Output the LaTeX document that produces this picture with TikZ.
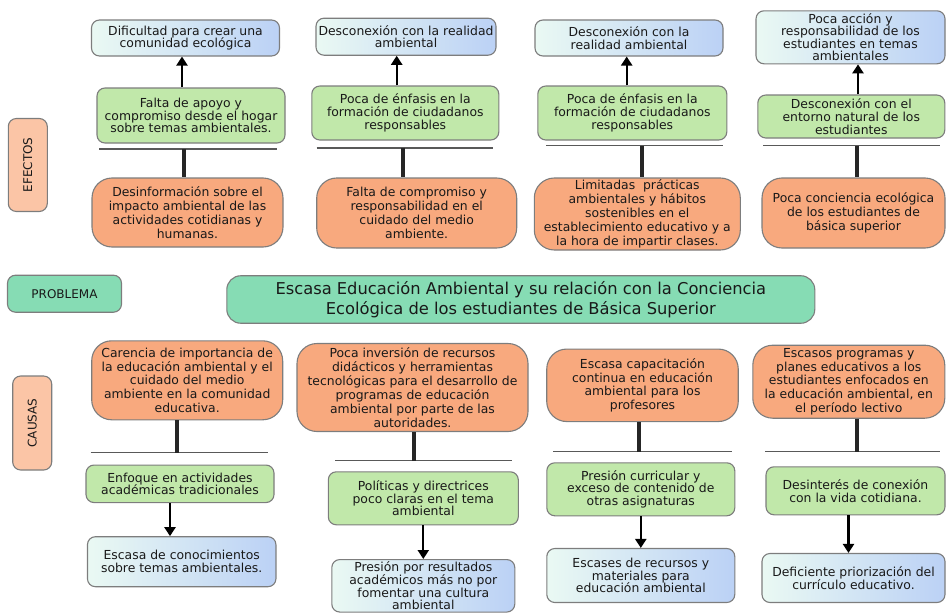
\documentclass[tikz,border=0pt]{standalone}
\usepackage{fontspec}
\setmainfont{DejaVu Sans}
\usetikzlibrary{arrows.meta,positioning}
\definecolor{naranja}{RGB}{248,169,126}
\definecolor{naranjaclaro}{RGB}{251,197,166}
\definecolor{verde}{RGB}{193,232,170}
\definecolor{menta}{RGB}{134,220,180}
\definecolor{celeste}{RGB}{234,249,243}
\definecolor{azul}{RGB}{187,209,245}
\definecolor{borde}{RGB}{125,125,125}
\tikzset{
    basic/.style    = {draw=borde, line width=1.1pt, align=center, inner sep=0pt, text=black!90},
    efecto/.style   = {basic, rounded corners=8pt, left color=celeste, right color=azul, font=\fontsize{12.4}{12.8}\selectfont},
    medio/.style    = {basic, rounded corners=8pt, fill=verde, font=\fontsize{12.4}{12.8}\selectfont},
    raiz/.style     = {basic, rounded corners=20pt, fill=naranja, font=\fontsize{12.4}{13.9}\selectfont},
    etiqueta/.style = {basic, rounded corners=8pt, font=\fontsize{12}{13}\selectfont},
    tema/.style     = {basic, rounded corners=14pt, fill=menta, font=\fontsize{16.3}{20}\selectfont},
    linea/.style    = {draw=black!65, line width=1.3pt},
    tronco/.style   = {draw=black!85, line width=4pt},
    flecha/.style   = {->, draw=black, line width=2.2pt}
}
\begin{document}
\begin{tikzpicture}[x=1pt, y=-1pt, >={Triangle[length=9pt,width=11pt]}]
	\useasboundingbox (0,0) rectangle (946,613);
	
	\node[etiqueta, fill=naranjaclaro, rotate=90, minimum width=93, minimum height=39] (nodeEfectos) at (27.8,165) {EFECTOS};
	\node[etiqueta, fill=menta, minimum width=114, minimum height=37] (nodeProblemaLbl) at (64.5,293.7) {PROBLEMA};
	\node[etiqueta, fill=naranjaclaro, rotate=90, minimum width=94, minimum height=39] (nodeCausas) at (32.2,423) {CAUSAS};
	\node[tema, minimum width=588, minimum height=47.5] (nodeProblema) at (520.8,299.5)
		{Escasa Educación Ambiental y su relación con la Conciencia\\Ecológica de los estudiantes de Básica Superior};
	
	\node[efecto, minimum width=188, minimum height=36] (nodeDificultad) at (185.5,38) {Dificultad para crear una\\comunidad ecológica};
	\node[efecto, minimum width=180, minimum height=37] (nodeRealidadA) at (406,36.7) {Desconexión con la realidad\\ambiental};
	\node[efecto, minimum width=188, minimum height=36] (nodeRealidadB) at (629,38) {Desconexión con la\\realidad ambiental};
	\node[efecto, minimum width=189, minimum height=53, font=\fontsize{12.4}{12.4}\selectfont] (nodeAccion) at (850.5,37.3)
		{Poca acción y\\responsabilidad de los\\estudiantes en temas\\ambientales};
	
	\node[medio, minimum width=188, minimum height=55] (nodeApoyo) at (191,115.5) {Falta de apoyo y\\compromiso desde el hogar\\sobre temas ambientales.};
	\node[medio, minimum width=187, minimum height=54] (nodeEnfasisA) at (405.3,113) {Poca de énfasis en la\\formación de ciudadanos\\responsables};
	\node[medio, minimum width=189, minimum height=54] (nodeEnfasisB) at (632.3,113) {Poca de énfasis en la\\formación de ciudadanos\\responsables};
	\node[medio, minimum width=187, minimum height=43] (nodeEntorno) at (851.3,116.5) {Desconexión con el\\entorno natural de los\\estudiantes};
	
	\node[raiz, minimum width=191, minimum height=69] (nodeDesinfo) at (187.5,212.5) {Desinformación sobre el\\impacto ambiental de las\\actividades cotidianas y\\humanas.};
	\node[raiz, minimum width=200, minimum height=70] (nodeCompromiso) at (416.7,213) {Falta de compromiso y\\responsabilidad en el\\cuidado del medio\\ambiente.};
	\node[raiz, minimum width=206, minimum height=72] (nodePracticas) at (637.3,214) {Limitadas\ \ prácticas\\ambientales y hábitos\\sostenibles en el\\establecimiento educativo y a\\la hora de impartir clases.};
	\node[raiz, minimum width=183, minimum height=70] (nodeConciencia) at (853.5,213) {Poca conciencia ecológica\\de los estudiantes de\\básica superior};
	
	\draw[flecha] ([xshift=-9]nodeApoyo.north) -- ([xshift=-9]nodeApoyo.north |- nodeDificultad.south);
	\draw[flecha] ([xshift=-8.6]nodeEnfasisA.north) -- ([xshift=-8.6]nodeEnfasisA.north |- nodeRealidadA.south);
	\draw[flecha] ([xshift=-5.6]nodeEnfasisB.north) -- ([xshift=-5.6]nodeEnfasisB.north |- nodeRealidadB.south);
	\draw[flecha] ([xshift=6.7]nodeEntorno.north) -- ([xshift=6.7]nodeEntorno.north |- nodeAccion.south);
	
	\coordinate (sepE1) at (184,149);
	\coordinate (sepE2) at (403,148);
	\coordinate (sepE3) at (641.7,145.7);
	\coordinate (sepE4) at (856.7,145.7);
	\draw[linea] (99,149) -- (277,149);
	\draw[linea] (316.7,148) -- (493,148);
	\draw[linea] (546,145.7) -- (723,145.7);
	\draw[linea] (763,145.7) -- (940,145.7);
	\draw[tronco] (sepE1) -- (sepE1 |- nodeDesinfo.north);
	\draw[tronco] (sepE2) -- (sepE2 |- nodeCompromiso.north);
	\draw[tronco] (sepE3) -- (sepE3 |- nodePracticas.north);
	\draw[tronco] (sepE4) -- (sepE4 |- nodeConciencia.north);
	
	\node[raiz, minimum width=191, minimum height=79] (nodeCarencia) at (187.2,380.3) {Carencia de importancia de\\la educación ambiental y el\\cuidado del medio\\ambiente en la comunidad\\educativa.};
	\node[raiz, minimum width=231, minimum height=88] (nodeInversion) at (412.5,387.5) {Poca inversión de recursos\\didácticos y herramientas\\tecnológicas para el desarrollo de\\programas de educación\\ambiental por parte de las\\autoridades.};
	\node[raiz, minimum width=191.5, minimum height=72.5] (nodeCapacitacion) at (642.5,385.3) {Escasa capacitación\\continua en educación\\ambiental para los\\profesores};
	\node[raiz, minimum width=192, minimum height=73] (nodeProgramas) at (848.8,381.7) {Escasos programas y\\planes educativos a los\\estudiantes enfocados en\\la educación ambiental, en\\el período lectivo};
	
	\coordinate (sepC1) at (176.7,452.7);
	\coordinate (sepC2) at (414.3,460.7);
	\coordinate (sepC3) at (639.3,451.7);
	\coordinate (sepC4) at (856.7,451.7);
	\draw[linea] (90.7,452.7) -- (268.3,452.7);
	\draw[linea] (335,460.7) -- (511.7,460.7);
	\draw[linea] (553.3,451.7) -- (731.7,451.7);
	\draw[linea] (765,451.7) -- (940,451.7);
	\draw[tronco] (sepC1 |- nodeCarencia.south) -- (sepC1);
	\draw[tronco] (sepC2 |- nodeInversion.south) -- (sepC2);
	\draw[tronco] (sepC3 |- nodeCapacitacion.south) -- (sepC3);
	\draw[tronco] (sepC4 |- nodeProgramas.south) -- (sepC4);
	
	\node[medio, minimum width=188, minimum height=37.5] (nodeEnfoque) at (180,483.8) {Enfoque en actividades\\académicas tradicionales};
	\node[medio, minimum width=190, minimum height=53] (nodePoliticas) at (423.3,498.3) {Políticas y directrices\\poco claras en el tema\\ambiental};
	\node[medio, minimum width=188, minimum height=53] (nodePresion) at (640.8,489.3) {Presión curricular y\\exceso de contenido de\\otras asignaturas};
	\node[medio, minimum width=179, minimum height=48] (nodeDesinteres) at (855.5,490.8) {Desinterés de conexión\\con la vida cotidiana.};
	
	\node[efecto, minimum width=188.5, minimum height=50] (nodeEscasa) at (181.7,561.7) {Escasa de conocimientos\\sobre temas ambientales.};
	\node[efecto, minimum width=183, minimum height=52.5] (nodeResultados) at (423.3,585.8) {Presión por resultados\\académicos más no por\\fomentar una cultura\\ambiental};
	\node[efecto, minimum width=188, minimum height=54] (nodeEscases) at (640.8,575.5) {Escases de recursos y\\materiales para\\educación ambiental};
	\node[efecto, minimum width=183, minimum height=49] (nodeDeficiente) at (853.5,578) {Deficiente priorización del\\currículo educativo.};
	
	\draw[flecha] ([xshift=-10]nodeEnfoque.south) -- ([xshift=-10]nodeEnfoque.south |- nodeEscasa.north);
	\draw[flecha] (nodePoliticas.south) -- (nodePoliticas.south |- nodeResultados.north);
	\draw[flecha] (nodePresion.south) -- (nodePresion.south |- nodeEscases.north);
	\draw[flecha] ([xshift=-7]nodeDesinteres.south) -- ([xshift=-7]nodeDesinteres.south |- nodeDeficiente.north);
\end{tikzpicture}
\end{document}
